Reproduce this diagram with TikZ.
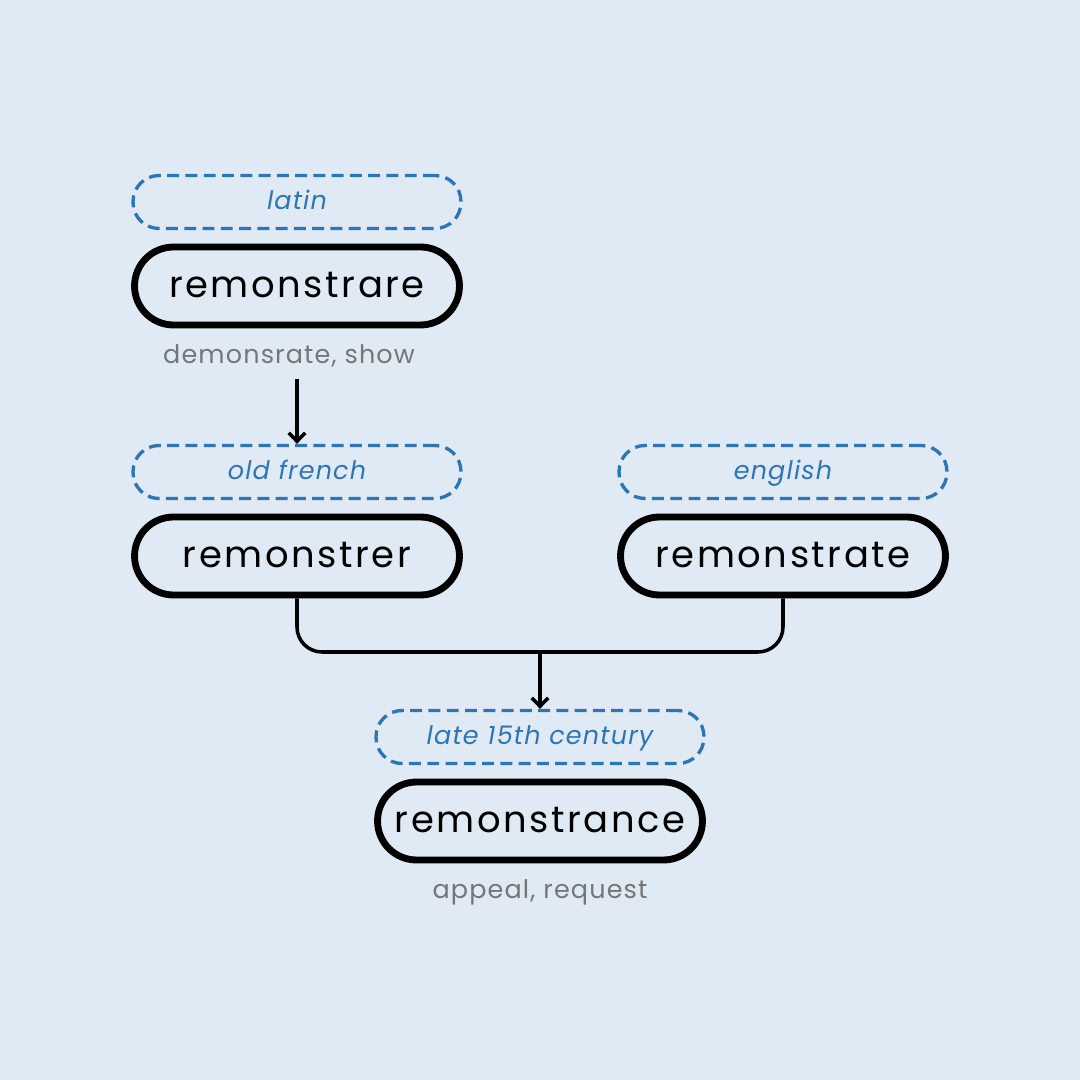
\documentclass[tikz,border=0pt]{standalone}
\usepackage{fontspec}
\setmainfont{Poppins}
\usetikzlibrary{arrows.meta, positioning}
\usepackage{xcolor}

\definecolor{paper}{HTML}{E0EAF4}
\definecolor{eraBlue}{HTML}{2E75B6}
\definecolor{glossGray}{HTML}{767676}

\begin{document}
\begin{tikzpicture}[x=0.02cm, y=0.02cm, thick]

			% Define style for word boxes
			\tikzstyle{word} = [rectangle, draw=black, line width=3.9pt,
								minimum width=6.5cm, minimum height=1.56cm,
								inner sep=0pt, rounded corners=0.78cm,
								text height=15.6pt, text depth=2.5pt,
								font=\fontsize{21}{24}\selectfont\addfontfeatures{LetterSpace=7}]

			% Define style for era tags
			\tikzstyle{era} = [rectangle, draw=eraBlue, line width=1.9pt,
								dash pattern=on 6.8pt off 3.6pt,
								minimum width=6.56cm, minimum height=1.06cm,
								inner sep=0pt, rounded corners=0.52cm,
								text height=11.4pt, text depth=2.5pt,
								text=eraBlue, font=\fontsize{14.5}{17}\selectfont\itshape\addfontfeatures{LetterSpace=4.5}]

			% Define style for glosses
			\tikzstyle{gloss} = [inner sep=0pt, text=glossGray,
								text height=10.5pt, text depth=2.5pt,
								font=\fontsize{14.5}{17}\selectfont\addfontfeatures{LetterSpace=4.5}]

			% Define style for arrows
			\tikzstyle{line} = [draw, line width=2pt, -{Straight Barb[length=1.7mm, width=3.3mm, line width=2pt]}]

			% Background
			\fill[paper] (0,0) rectangle (1080,1080);
			\useasboundingbox (0,0) rectangle (1080,1080);

			% Place nodes
			\node [word] (remonstrare) at (297,794) {remonstrare};
			\node [era] (latin) at (297,878) {latin};
			\node [gloss] (show) at (289,724) {demonsrate, show};

			\node [word] (remonstrer) at (297,524) {remonstrer};
			\node [era] (oldfrench) at (297,608) {old french};

			\node [word] (remonstrate) at (783,524) {remonstrate};
			\node [era] (english) at (783,608) {english};

			\node [word] (remonstrance) at (540,259) {remonstrance};
			\node [era] (late) at (540,343) {late 15th century};
			\node [gloss] (appeal) at (540,189) {appeal, request};

			\coordinate (join) at (540,428);

			% Draw edges
			\path [line] ([yshift=-0.22cm]show.south -| oldfrench.north) -- (oldfrench.north);
			\draw [line width=2pt, rounded corners=0.5cm]
				(remonstrer.south) |- (join) -| (remonstrate.south);
			\path [line] (join) -- (late.north);
		\end{tikzpicture}
\end{document}
